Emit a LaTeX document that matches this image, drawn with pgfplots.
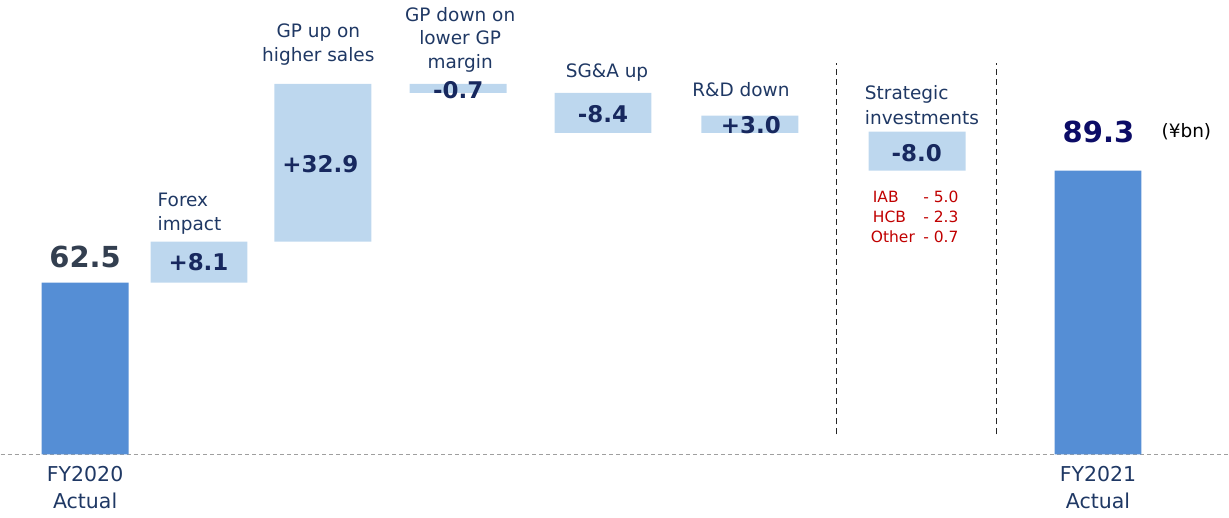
\documentclass[border=0pt]{standalone}
\usepackage{pgfplots}
\pgfplotsset{compat=1.18}
\usepackage{pgfplotstable}
\usepackage{fontspec}
\setmainfont{DejaVu Sans}

\definecolor{totbar}{HTML}{558ED5}
\definecolor{stepbar}{HTML}{BDD7EE}
\definecolor{catblue}{HTML}{1F3864}
\definecolor{valblue}{HTML}{17285E}
\definecolor{startgray}{HTML}{333F50}
\definecolor{endblue}{HTML}{0C0C66}
\definecolor{detailred}{HTML}{C00000}

\newcommand{\fs}[2]{\fontsize{#1}{#2}\selectfont}

% waterfall: invisible base, visible step, total bars (drawn heights as in the slide)
\pgfplotstableread{
x      base   delta  total
84.5   0      0      62.5
198.5  62.5   14.9   0
322.5  77.4   57.4   0
458    131.5  3.3    0
603    117.0  14.5   0
750    117.0  6.2    0
917.5  103.2  14.2   0
1098.5 0      0      103.2
}\wf

\begin{document}
\begin{tikzpicture}
\begin{axis}[
    width=1229pt, height=518pt, scale only axis,
    xmin=0, xmax=1229, ymin=-22.9, ymax=165.3,
    axis lines=none,
    ybar stacked,
    clip=false,
]
\path (rel axis cs:0,0) coordinate (bl) (rel axis cs:1,1) coordinate (tr);
\addplot[fill=none, draw=none, bar width=97] table[x=x, y=base] {\wf};
\addplot[fill=stepbar, draw=none, bar width=97] table[x=x, y=delta] {\wf};
\addplot[fill=totbar, draw=none, bar width=87] table[x=x, y=total] {\wf};

% separators and baseline
\draw[black!85, line width=1.4pt, dash pattern=on 6pt off 4pt] (axis cs:837,7.3) -- (axis cs:837,142.4);
\draw[black!85, line width=1.4pt, dash pattern=on 6pt off 4pt] (axis cs:997,7.3) -- (axis cs:997,142.4);
\draw[gray!75, line width=1.4pt, dash pattern=on 4pt off 3pt] (axis cs:0,0) -- (axis cs:1229,0);

% category labels
\node[text=catblue, align=left, anchor=west, inner sep=0pt, font=\fs{18.5}{24}] at (axis cs:157,87.75) {Forex\\impact};
\node[text=catblue, align=center, font=\fs{18.5}{24}] at (axis cs:318,149) {GP up on\\higher sales};
\node[text=catblue, align=center, font=\fs{18.5}{23.5}] at (axis cs:460,150.8) {GP down on\\lower GP\\margin};
\node[text=catblue, font=\fs{18.5}{24}] at (axis cs:607,138.8) {SG\&A up};
\node[text=catblue, font=\fs{18.5}{24}] at (axis cs:741,132.6) {R\&D down};
\node[text=catblue, align=left, anchor=west, inner sep=0pt, font=\fs{18.5}{25}] at (axis cs:865,127.2) {Strategic\\investments};
\node[text=catblue, align=center, font=\fs{20.5}{27}] at (axis cs:84.5,-12.2) {FY2020\\Actual};
\node[text=catblue, align=center, font=\fs{20.5}{27}] at (axis cs:1098.5,-12.2) {FY2021\\Actual};

% anchors for step values (set on top of the bars below)
\coordinate (s1) at (axis cs:198,69.8);
\coordinate (s2) at (axis cs:320,105.7);
\coordinate (s3) at (axis cs:458,132.6);
\coordinate (s4) at (axis cs:603,123.9);
\coordinate (s5) at (axis cs:751,119.9);
\coordinate (s6) at (axis cs:917,109.7);

% totals
\node[text=startgray, font=\bfseries\fs{29}{32}] at (axis cs:84.5,71.9) {62.5};
\node[text=endblue, font=\bfseries\fs{29}{32}] at (axis cs:1099,117.4) {89.3};
\node[text=black, font=\fs{18.5}{20}] at (axis cs:1187,117.4) {(¥bn)};

% breakdown of strategic investments
\node[text=detailred, anchor=west, inner sep=0pt, font=\fs{15.5}{18}] at (axis cs:873,93.8) {IAB};
\node[text=detailred, anchor=west, inner sep=0pt, font=\fs{15.5}{18}] at (axis cs:873,86.5) {HCB};
\node[text=detailred, anchor=west, inner sep=0pt, font=\fs{15.5}{18}] at (axis cs:871,79.2) {Other};
\node[text=detailred, anchor=east, inner sep=0pt, font=\fs{15.5}{18}] at (axis cs:959,93.8) {- 5.0};
\node[text=detailred, anchor=east, inner sep=0pt, font=\fs{15.5}{18}] at (axis cs:959,86.5) {- 2.3};
\node[text=detailred, anchor=east, inner sep=0pt, font=\fs{15.5}{18}] at (axis cs:959,79.2) {- 0.7};
\end{axis}
\path (bl) rectangle (tr);
\foreach \c/\t in {s1/+8.1, s2/+32.9, s3/-0.7, s4/-8.4, s5/+3.0, s6/-8.0}
  \node[text=valblue, font=\bfseries\fs{23}{26}] at (\c) {\t};
\end{tikzpicture}
\end{document}
